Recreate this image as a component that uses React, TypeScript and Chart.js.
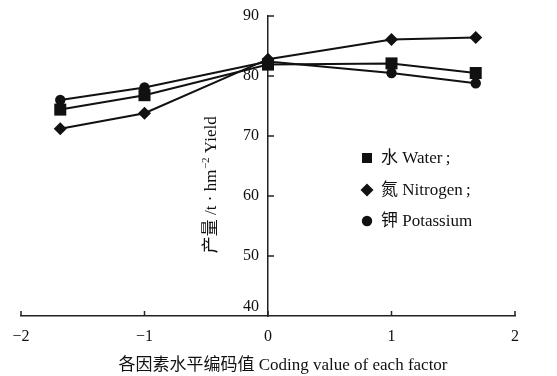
import React, { useEffect, useRef } from "react";
import { Chart, registerables } from "chart.js";

Chart.register(...registerables);

const xValues = [-1.682, -1, 0, 1, 1.682];
const waterYield = [74.4, 76.8, 81.9, 82.1, 80.5];
const nitrogenYield = [71.2, 73.8, 82.8, 86.1, 86.4];
const potassiumYield = [76.0, 78.1, 82.4, 80.5, 78.8];
const seriesLabels = ["水 Water\u2009;", "氮 Nitrogen\u2009;", "钾 Potassium"];
const seriesStyles = ["rect", "rectRot", "circle"];
const xTickValues = [-2, -1, 0, 1, 2];
const yTickValues = [40, 50, 60, 70, 80, 90];
const xTitle = "各因素水平编码值 Coding value of each factor";
const yTitleMain = "产量 /t · hm";
const yTitleSup = "−2";
const yTitleEnd = " Yield";

const FONT = "'Liberation Serif', 'Noto Sans CJK SC', serif";
const INK = "#111";

const decorPlugin = {
  id: "decor",
  afterDraw(chart: any) {
    const { ctx } = chart;
    const xs = chart.scales.x;
    const ys = chart.scales.y;
    const x0 = xs.getPixelForValue(0);
    const yBottom = ys.getPixelForValue(ys.min);
    ctx.save();
    ctx.strokeStyle = "#222";
    ctx.lineWidth = 1.5;
    // x ticks pointing up
    xTickValues.forEach((v) => {
      const px = xs.getPixelForValue(v);
      ctx.beginPath();
      ctx.moveTo(px, yBottom);
      ctx.lineTo(px, yBottom - 5);
      ctx.stroke();
    });
    // y ticks pointing right + labels on the left
    ctx.fillStyle = INK;
    ctx.font = `16px ${FONT}`;
    ctx.textAlign = "right";
    ctx.textBaseline = "middle";
    yTickValues.forEach((v) => {
      const py = ys.getPixelForValue(v);
      if (v > ys.min) {
        ctx.beginPath();
        ctx.moveTo(x0, py);
        ctx.lineTo(x0 + 6, py);
        ctx.stroke();
      }
      ctx.fillText(String(v), x0 - 9, v === ys.min ? py - 9 : py);
    });

    // x title
    ctx.font = `17px ${FONT}`;
    ctx.textAlign = "center";
    ctx.textBaseline = "middle";
    ctx.fillText(xTitle, 283, 366);

    // y title rotated
    ctx.save();
    ctx.translate(210, 185);
    ctx.rotate(-Math.PI / 2);
    ctx.textAlign = "left";
    ctx.textBaseline = "alphabetic";
    const mainFont = `17px ${FONT}`;
    const supFont = `11px ${FONT}`;
    ctx.font = mainFont;
    const w1 = ctx.measureText(yTitleMain).width;
    const w3 = ctx.measureText(yTitleEnd).width;
    ctx.font = supFont;
    const w2 = ctx.measureText(yTitleSup).width;
    let sx = -(w1 + w2 + w3) / 2;
    const base = 6;
    ctx.font = mainFont;
    ctx.fillText(yTitleMain, sx, base);
    sx += w1;
    ctx.font = supFont;
    ctx.fillText(yTitleSup, sx + 0.5, base - 7);
    sx += w2 + 0.5;
    ctx.font = mainFont;
    ctx.fillText(yTitleEnd, sx, base);
    ctx.restore();

    // legend
    const rows = [158, 190, 221];
    const mx = 367;
    const tx = 381;
    chart.data.datasets.forEach((ds: any, i: number) => {
      const y = rows[i];
      ctx.fillStyle = INK;
      ctx.beginPath();
      if (ds.pointStyle === "rect") {
        ctx.rect(mx - 5, y - 5, 10, 10);
      } else if (ds.pointStyle === "rectRot") {
        ctx.moveTo(mx, y - 6.5);
        ctx.lineTo(mx + 6.5, y);
        ctx.lineTo(mx, y + 6.5);
        ctx.lineTo(mx - 6.5, y);
        ctx.closePath();
      } else {
        ctx.arc(mx, y, 5.2, 0, Math.PI * 2);
      }
      ctx.fill();
      ctx.font = `17px ${FONT}`;
      ctx.textAlign = "left";
      ctx.textBaseline = "middle";
      ctx.fillText(ds.label, tx, y + 1);
    });
    ctx.restore();
  },
};

export default function App() {
  const ref = useRef<HTMLCanvasElement>(null);
  useEffect(() => {
    if (!ref.current) return;
    const mk = (vals: number[]) => xValues.map((x, i) => ({ x, y: vals[i] }));
    const datasets = [waterYield, nitrogenYield, potassiumYield].map((vals, i) => ({
      label: seriesLabels[i],
      data: mk(vals),
      showLine: true,
      borderColor: INK,
      backgroundColor: INK,
      borderWidth: 2,
      pointStyle: seriesStyles[i],
      pointRadius: i === 0 ? 8.5 : i === 1 ? 6.5 : 5.2,
      pointBorderWidth: 0,
      pointBackgroundColor: INK,
    }));
    const chart = new Chart(ref.current, {
      type: "scatter",
      data: { datasets },
      plugins: [decorPlugin],
      options: {
        animation: false,
        responsive: true,
        maintainAspectRatio: false,
        layout: { padding: { left: 21, right: 42, top: 16, bottom: 0 } },
        plugins: { legend: { display: false }, tooltip: { enabled: false } },
        scales: {
          x: {
            type: "linear",
            position: "bottom",
            min: -2,
            max: 2,
            afterBuildTicks: (s: any) => {
              s.ticks = xTickValues.map((v) => ({ value: v }));
            },
            afterFit: (s: any) => {
              s.height = 60;
            },
            grid: { display: false, drawTicks: false },
            border: { display: true, color: "#222", width: 1.5 },
            ticks: {
              padding: 11,
              color: INK,
              font: { family: FONT, size: 16 },
              maxRotation: 0,
              callback: (v: any) => (v < 0 ? "−" + Math.abs(v) : String(v)),
            },
          },
          y: {
            type: "linear",
            position: { x: 0 } as any,
            min: 40,
            max: 90,
            afterBuildTicks: (s: any) => {
              s.ticks = yTickValues.map((v) => ({ value: v }));
            },
            grid: { display: false, drawTicks: false },
            border: { display: true, color: "#222", width: 1.5 },
            ticks: { display: false },
          },
        },
      },
    });
    return () => chart.destroy();
  }, []);
  return (
    <div style={{ position: "absolute", left: 0, top: 0, width: 557, height: 376 }}>
      <canvas ref={ref} />
    </div>
  );
}
